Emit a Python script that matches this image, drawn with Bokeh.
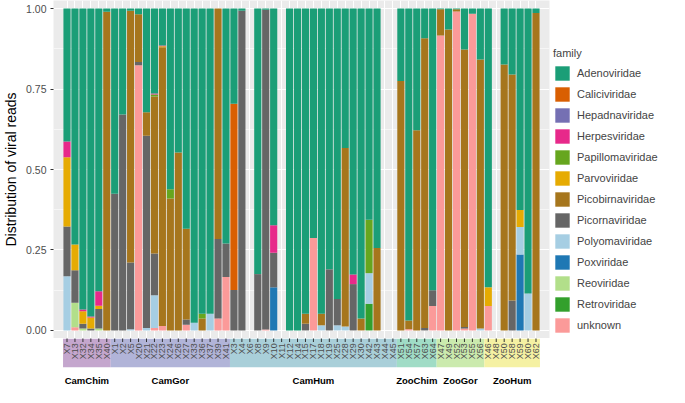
import math
from bokeh.plotting import figure
from bokeh.models import (ColumnDataSource, FactorRange, Range1d, Legend, LegendItem,
                          FixedTicker, PrintfTickFormatter)
from bokeh.layouts import column, row
from bokeh.embed import file_html
from bokeh.resources import INLINE
from bokeh.core.properties import value

# ---------------- data ----------------
cam_chim = ["X7", "X13", "X32", "X34", "X35", "X40"]
cam_gor = ["X1", "X2", "X5", "X20", "X21", "X22", "X23", "X24", "X26", "X27",
           "X33", "X36", "X37", "X39", "X41"]
cam_hum = ["X3", "X4", "X6", "X8", "X9", "X10", "X11", "X12", "X14", "X15", "X17",
           "X18", "X19", "X25", "X28", "X29", "X30", "X42", "X43", "X44", "X45"]
zoo_chim = ["X51", "X54", "X57", "X63", "X64"]
zoo_gor = ["X47", "X49", "X52", "X53", "X55", "X56"]
zoo_hum = ["X46", "X48", "X50", "X58", "X59", "X60", "X62"]

groups = ["CamChim", "CamGor", "CamHum", "ZooChim", "ZooGor", "ZooHum"]
group_members = [cam_chim, cam_gor, cam_hum, zoo_chim, zoo_gor, zoo_hum]
group_colors = ["#C4A6CD", "#B1B4D8", "#A9CFD9", "#A0DCC6", "#CBEAAE", "#F5F1A3"]

samples = [s for g in group_members for s in g]

families = ["Adenoviridae", "Caliciviridae", "Hepadnaviridae", "Herpesviridae",
            "Papillomaviridae", "Parvoviridae", "Picobirnaviridae", "Picornaviridae",
            "Polyomaviridae", "Poxviridae", "Reoviridae", "Retroviridae", "unknown"]
family_colors = ["#1B9E77", "#D95F02", "#7570B3", "#E7298A", "#66A61E", "#E6AB02",
                 "#A6761D", "#666666", "#A6CEE3", "#1F78B4", "#B2DF8A", "#33A02C",
                 "#FB9A99"]

# share of viral reads per sample (samples not listed = 0)
adenoviridae = {
    "X7": 0.413, "X13": 0.733, "X32": 0.935, "X34": 0.957, "X35": 0.878, "X40": 0.010,
    "X1": 0.575, "X2": 0.329, "X5": 0.007, "X20": 0.018, "X21": 0.322, "X22": 0.264,
    "X23": 0.115, "X24": 0.561, "X26": 0.447, "X27": 0.684, "X33": 0.976, "X36": 0.948,
    "X37": 0.948, "X41": 0.730,
    "X3": 0.296, "X4": 0.007, "X8": 0.825, "X9": 0.004, "X10": 0.673, "X12": 1.0,
    "X14": 1.0, "X15": 0.948, "X17": 0.713, "X18": 0.948, "X19": 0.810, "X25": 0.902,
    "X28": 0.433, "X29": 0.826, "X30": 0.963, "X42": 0.656, "X43": 0.744,
    "X51": 0.225, "X54": 0.969, "X57": 0.378, "X63": 0.092, "X64": 0.875,
    "X47": 0.002, "X49": 0.065, "X52": 0.002, "X53": 0.127, "X55": 0.016, "X56": 0.158,
    "X46": 0.866, "X50": 0.174, "X58": 0.205, "X59": 0.626, "X60": 0.885, "X62": 0.014}
caliciviridae = {"X3": 0.578}
hepadnaviridae = {}
herpesviridae = {"X7": 0.049, "X32": 0.005, "X34": 0.003, "X35": 0.045, "X22": 0.003,
                 "X23": 0.002, "X10": 0.086, "X29": 0.030}
papillomaviridae = {"X22": 0.006, "X24": 0.029, "X36": 0.015, "X42": 0.166}
parvoviridae = {"X7": 0.215, "X13": 0.080, "X32": 0.039, "X34": 0.034, "X35": 0.010,
                "X23": 0.003, "X46": 0.058, "X59": 0.053}
picobirnaviridae = {
    "X40": 0.990, "X5": 0.782, "X20": 0.148, "X21": 0.073, "X22": 0.488, "X23": 0.866,
    "X24": 0.410, "X26": 0.553, "X27": 0.282, "X36": 0.037, "X39": 0.716, "X15": 0.031,
    "X18": 0.036, "X28": 0.555, "X30": 0.037, "X43": 0.256, "X51": 0.775, "X54": 0.027,
    "X57": 0.622, "X63": 0.900, "X47": 0.082, "X49": 0.935, "X52": 0.007, "X53": 0.862,
    "X56": 0.836, "X50": 0.826, "X58": 0.702, "X62": 0.986}
picornaviridae = {
    "X7": 0.155, "X13": 0.101, "X32": 0.015, "X34": 0.006, "X35": 0.061, "X1": 0.425,
    "X2": 0.671, "X5": 0.207, "X20": 0.010, "X21": 0.597, "X22": 0.130, "X27": 0.016,
    "X39": 0.247, "X41": 0.104, "X3": 0.126, "X4": 0.993, "X8": 0.175, "X9": 0.993,
    "X10": 0.107, "X15": 0.021, "X19": 0.190, "X25": 0.082, "X29": 0.144, "X63": 0.008,
    "X64": 0.049, "X53": 0.005, "X58": 0.093}
polyomaviridae = {
    "X7": 0.168, "X5": 0.004, "X21": 0.008, "X22": 0.101, "X33": 0.024, "X37": 0.052,
    "X18": 0.016, "X25": 0.016, "X28": 0.012, "X42": 0.095, "X56": 0.006, "X59": 0.085,
    "X60": 0.115}
poxviridae = {"X10": 0.134, "X59": 0.236}
reoviridae = {"X13": 0.076, "X32": 0.006, "X35": 0.006}
retroviridae = {"X42": 0.083}
unknown = {
    "X13": 0.010, "X20": 0.824, "X22": 0.008, "X23": 0.014, "X27": 0.018, "X39": 0.037,
    "X41": 0.166, "X9": 0.003, "X17": 0.287, "X54": 0.004, "X64": 0.076, "X47": 0.916,
    "X52": 0.991, "X53": 0.006, "X55": 0.984, "X46": 0.076}

family_values = [adenoviridae, caliciviridae, hepadnaviridae, herpesviridae,
                 papillomaviridae, parvoviridae, picobirnaviridae, picornaviridae,
                 polyomaviridae, poxviridae, reoviridae, retroviridae, unknown]

yticks = [0, 0.25, 0.5, 0.75, 1.0]
yminor = [0.125, 0.375, 0.625, 0.875]

# ---------------- figure ----------------
FONT = "Liberation Sans"
data = {"sample": samples}
for f, vals in zip(families, family_values):
    data[f] = [vals.get(smp, 0.0) for smp in samples]
src = ColumnDataSource(data)

xr = FactorRange(factors=samples, range_padding=1.2, range_padding_units="absolute")

LEFT = 48
RIGHT = 2
W_MAIN = 551
H_MAIN = 338
W_LEG = 669 - W_MAIN

p = figure(x_range=xr, y_range=Range1d(-0.025, 1.025), width=W_MAIN, height=H_MAIN,
           output_backend="svg", toolbar_location=None, x_axis_location=None,
           min_border_left=LEFT, min_border_top=0, min_border_bottom=0,
           min_border_right=RIGHT)
p.background_fill_color = "#EBEBEB"
p.outline_line_color = None

stack_order = families[::-1]
stack_colors = family_colors[::-1]
p.vbar_stack(stack_order, x="sample", width=0.9, color=stack_colors,
             line_color=None, source=src)

p.xgrid.grid_line_color = "white"
p.xgrid.grid_line_width = 1.1
p.ygrid.grid_line_color = "white"
p.ygrid.grid_line_width = 1.1
p.ygrid.minor_grid_line_color = "white"
p.ygrid.minor_grid_line_width = 0.55

p.yaxis.ticker = FixedTicker(ticks=yticks, minor_ticks=yminor)
p.yaxis.formatter = PrintfTickFormatter(format="%.2f")
p.yaxis.axis_label = "Distribution of viral reads"
p.yaxis.axis_label_text_font = FONT
p.yaxis.axis_label_text_font_size = "14px"
p.yaxis.axis_label_text_font_style = "normal"
p.yaxis.axis_label_text_color = "black"
p.yaxis.axis_label_standoff = 4
p.yaxis.major_label_text_font = FONT
p.yaxis.major_label_text_font_size = "10.5px"
p.yaxis.major_label_text_color = "#4D4D4D"
p.yaxis.major_label_standoff = 3
p.yaxis.major_tick_out = 3
p.yaxis.major_tick_in = 0
p.yaxis.major_tick_line_color = "#333333"
p.yaxis.minor_tick_line_color = None
p.yaxis.axis_line_color = None

# ---------------- legend panel (separate figure, bars out of view) ----------------
lf = figure(x_range=xr, y_range=Range1d(2, 3), width=W_LEG, height=H_MAIN,
            output_backend="svg", toolbar_location=None, x_axis_location=None,
            y_axis_location=None, min_border=0)
lf.outline_line_color = None
lf.grid.visible = False
lf.background_fill_color = "white"
lrs = lf.vbar_stack(stack_order, x="sample", width=0.9, color=stack_colors,
                    line_color=None, source=src)
lmap = dict(zip(stack_order, lrs))
items = [LegendItem(label=f, renderers=[lmap[f]]) for f in families]
legend = Legend(items=items, title="family", location=(2, 4),
                glyph_width=18, glyph_height=18, label_height=18, spacing=3,
                label_standoff=6, padding=4, margin=0,
                label_text_font=FONT, label_text_font_size="11px",
                title_text_font=FONT, title_text_font_size="11px",
                title_text_font_style="normal", title_standoff=5,
                border_line_color=None, background_fill_alpha=0)
lf.add_layout(legend)

# ---------------- group strip ----------------
starts = []
acc = 0
for g in group_members:
    starts.append(acc)
    acc += len(g)
gsrc = ColumnDataSource(dict(
    group=groups,
    left=starts,
    right=[st + len(g) for st, g in zip(starts, group_members)],
    center=[st + len(g) / 2 for st, g in zip(starts, group_members)],
    color=group_colors,
))
lsrc = ColumnDataSource(dict(sample=samples))

s = figure(x_range=xr, y_range=Range1d(0, 1), width=W_MAIN, height=48,
           output_backend="svg", toolbar_location=None, x_axis_location=None,
           y_axis_location=None, min_border_left=LEFT, min_border_top=0,
           min_border_bottom=0, min_border_right=RIGHT)
s.background_fill_color = "white"
s.outline_line_color = None
s.grid.visible = False
s.quad(left="left", right="right", bottom=0.40, top=1.0, fill_color="color",
       line_color=None, source=gsrc)
# axis ticks (half of each dash is clipped by the frame top)
s.scatter(x="sample", y=1.0, marker="dash", angle=math.pi / 2, size=7,
          line_color="#333333", line_width=1, source=lsrc)
s.text(x="sample", y=0.9, text="sample", angle=math.pi / 2, text_align="right",
       text_baseline="middle", text_font=value(FONT), text_font_size="9px",
       text_color="#4D4D4D", source=lsrc)
s.text(x="center", y=0.13, text="group", text_align="center", text_baseline="middle",
       text_font=value(FONT), text_font_size="9.5px", text_font_style="bold",
       text_color="black", source=gsrc)

layout = row(column(p, s, spacing=0), lf, spacing=0)
open("out.html", "w").write(file_html(layout, INLINE))
